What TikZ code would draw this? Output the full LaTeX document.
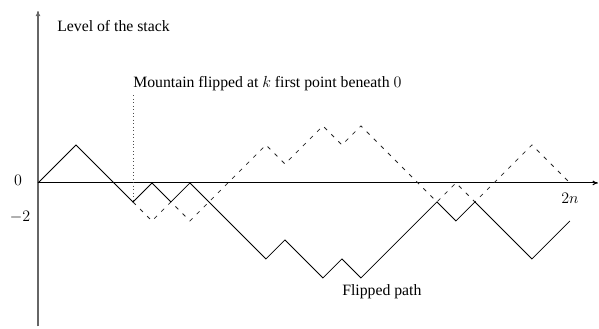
\documentclass[tikz,border=0pt]{standalone}
\usepackage{fontspec}
\setmainfont{Liberation Serif}
\usepackage{tikz}
\usetikzlibrary{arrows.meta, positioning}

\begin{document}
\begin{tikzpicture}[x=0.5cm,y=0.5cm,>={To[length=4pt,width=3.5pt]},
    pathline/.style={black, line width=0.6pt, line join=miter},
    flipline/.style={black!85, line width=0.6pt, dash pattern=on 3pt off 4.5pt},
    lbl/.style={font=\fontsize{11.8pt}{14pt}\selectfont, inner sep=0pt}]
    \useasboundingbox (-2,-7.68) rectangle (29.53,9.63);

    % axes
    \draw[->, line width=0.8pt, draw=black!60] (0,-7.55) -- (0,9.05);
    \draw[->, line width=0.8pt, draw=black] (0,0) -- (29.47,0);

    % labels
    \node[lbl, anchor=base west] (stack) at (1.0,7.95) {Level of the stack};
    \node[lbl, anchor=base west] (flip) at (5.0,5.0) {Mountain flipped at $k$ first point beneath $0$};
    \node[lbl] (zero) at (-1.05,0.15) {$0$};
    \node[lbl] (mtwo) at (-0.95,-1.8) {$-2$};
    \node[lbl] (twon) at (28,-0.8) {$2n$};
    \node[lbl] (flipped) at (18.1,-5.75) {Flipped path};

    % first point beneath 0
    \coordinate (k) at (5,-1);
    \draw[dotted, line width=0.6pt, black!70] (flip.south west) ++(0,-0.2) -- (k);

    % flipped part (dashed)
    \draw[flipline]
      plot coordinates {
        (5,-1) (6,-2) (7,-1) (8,-2) (12,2) (13,1) (15,3) (16,2)
        (17,3) (21,-1) (22,0) (23,-1) (26,2) (28,0)
      };

    % path
    \draw[pathline]
      plot coordinates {
        (0,0) (2,2) (5,-1) (6,0) (7,-1) (8,0) (12,-4) (13,-3)
        (15,-5) (16,-4) (17,-5) (21,-1) (22,-2) (23,-1) (26,-4) (28,-2)
      };
\end{tikzpicture}
\end{document}
